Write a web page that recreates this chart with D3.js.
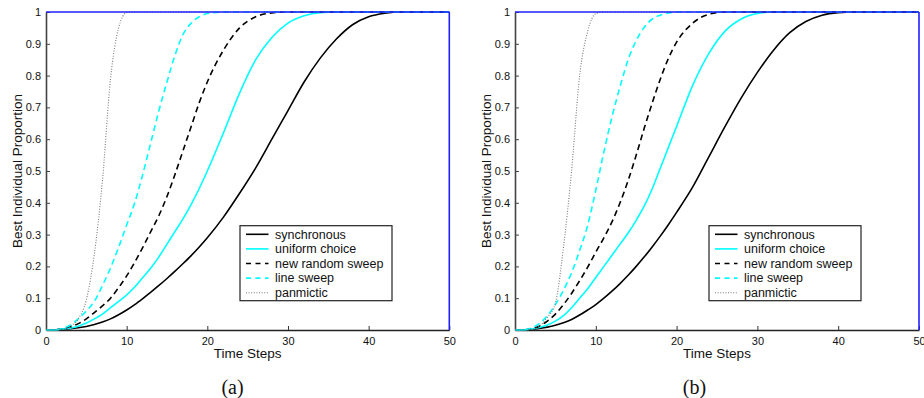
<!DOCTYPE html>
<html>
<head>
<meta charset="utf-8">
<script src="https://cdn.jsdelivr.net/npm/d3@7"></script>
<style>
  body { margin: 0; background: #fff; }
  text { font-family: "Liberation Sans", Arial, sans-serif; }
</style>
</head>
<body>
<div class="chart"></div>
<script>
	// Data
	var seriesNames = ["synchronous", "uniform choice", "new random sweep", "line sweep", "panmictic"];
	var timeSteps = [0,1,2,3,4,5,6,7,8,9,10,11,12,13,14,15,16,17,18,19,20,22,24,26,28,30,32,34,36,38,40,42,44,50];
	var xTicks = [0, 10, 20, 30, 40, 50];
	var yTicks = [0, 0.1, 0.2, 0.3, 0.4, 0.5, 0.6, 0.7, 0.8, 0.9, 1];

	// panel (a)
	var syncA    = [0,0,0.002,0.004,0.007,0.011,0.017,0.025,0.035,0.048,0.063,0.08,0.099,0.119,0.14,0.162,0.185,0.209,0.234,0.261,0.29, 0.355,0.43,0.51,0.60,0.69,0.78,0.855,0.915,0.96,0.985,0.996,1, 1];
	var uniformA = [0,0,0.003,0.006,0.012,0.022,0.035,0.05,0.07,0.09,0.11,0.135,0.165,0.195,0.23,0.27,0.31,0.35,0.395,0.445,0.50, 0.62,0.745,0.85,0.92,0.965,0.988,0.998,1,1,1,1,1, 1];
	var randomA  = [0,0,0.004,0.01,0.02,0.035,0.055,0.076,0.10,0.133,0.17,0.213,0.26,0.31,0.36,0.42,0.49,0.565,0.64,0.715,0.78, 0.88,0.95,0.985,0.997,1,1,1,1,1,1,1,1, 1];
	var lineA    = [0,0,0.005,0.015,0.035,0.06,0.09,0.14,0.195,0.26,0.33,0.40,0.49,0.59,0.69,0.78,0.865,0.93,0.965,0.985,0.995, 1,1,1,1,1,1,1,1,1,1,1,1, 1];
	var panA     = [0,0,0.002,0.01,0.035,0.095,0.24,0.47,0.79,0.95,0.998,1,1,1,1,1,1,1,1,1,1, 1,1,1,1,1,1,1,1,1,1,1,1, 1];

	// panel (b)
	var syncB    = [0,0,0.002,0.005,0.009,0.015,0.023,0.033,0.047,0.063,0.08,0.10,0.122,0.146,0.172,0.20,0.23,0.262,0.296,0.332,0.37, 0.45,0.545,0.64,0.73,0.81,0.88,0.935,0.97,0.99,0.998,1,1, 1];
	var uniformB = [0,0,0.003,0.008,0.016,0.028,0.045,0.07,0.10,0.13,0.165,0.20,0.235,0.27,0.305,0.345,0.39,0.445,0.51,0.575,0.64, 0.77,0.87,0.94,0.978,0.995,1,1,1,1,1,1,1, 1];
	var randomB  = [0,0,0.004,0.012,0.028,0.05,0.08,0.115,0.155,0.198,0.245,0.29,0.34,0.40,0.47,0.55,0.635,0.715,0.79,0.855,0.905, 0.965,0.993,1,1,1,1,1,1,1,1,1,1, 1];
	var lineB    = [0,0,0.006,0.02,0.045,0.08,0.125,0.18,0.25,0.33,0.44,0.56,0.67,0.765,0.85,0.91,0.952,0.978,0.99,0.997,1, 1,1,1,1,1,1,1,1,1,1,1,1, 1];
	var panB     = [0,0,0.002,0.012,0.04,0.085,0.26,0.50,0.80,0.94,0.995,1,1,1,1,1,1,1,1,1,1, 1,1,1,1,1,1,1,1,1,1,1,1, 1];

	// line styles, same order as seriesNames
	var lineStyles = [
		{ color: "#000000", dash: null,  width: 1.6 },
		{ color: "#00ffff", dash: null,  width: 1.6 },
		{ color: "#000000", dash: "6,4", width: 1.6 },
		{ color: "#00ffff", dash: "6,4", width: 1.6 },
		{ color: "#7a7a7a", dash: "1,1.6", width: 1.1 }
	];

	var svgWidth = 924, svgHeight = 398;
	var plotTop = 12, plotBottom = 330;

	var svg = d3.select(".chart")
		.append("svg")
			.attr("width", svgWidth)
			.attr("height", svgHeight)
			.style("display", "block");

	svg.append("rect")
		.attr("width", svgWidth)
		.attr("height", svgHeight)
		.attr("fill", "#ffffff");

	function drawPanel(left, right, values, yLabelX, caption, captionX) {
		var g = svg.append("g");

		// X Scale
		var x = d3.scaleLinear()
			.domain([0, 50])
			.range([left, right]);

		// Y Scale
		var y = d3.scaleLinear()
			.domain([0, 1])
			.range([plotBottom, plotTop]);

		// X Axis (ticks pointing in)
		var xAxis = d3.axisBottom(x)
			.tickValues(xTicks)
			.tickSizeInner(-4)
			.tickSizeOuter(0)
			.tickPadding(7)
			.tickFormat(function(d){ return d; });
		var xAxisGroup = g.append("g")
			.attr("transform", "translate(0," + plotBottom + ")")
			.call(xAxis);
		xAxisGroup.select(".domain").attr("stroke", "#222222").attr("stroke-width", 1.6);
		xAxisGroup.selectAll(".tick line").attr("stroke", "#333333");
		xAxisGroup.selectAll("text")
			.style("font-size", "11px")
			.style("font-family", "'Liberation Sans', Arial, sans-serif")
			.attr("fill", "#111111");

		// Y Axis
		var yAxis = d3.axisLeft(y)
			.tickValues(yTicks)
			.tickSizeInner(-4)
			.tickSizeOuter(0)
			.tickPadding(5)
			.tickFormat(function(d){ return d; });
		var yAxisGroup = g.append("g")
			.attr("transform", "translate(" + left + ",0)")
			.call(yAxis);
		yAxisGroup.select(".domain").attr("stroke", "#444444").attr("stroke-width", 1.6);
		yAxisGroup.selectAll(".tick line").attr("stroke", "#444444");
		yAxisGroup.selectAll("text")
			.style("font-size", "11px")
			.style("font-family", "'Liberation Sans', Arial, sans-serif")
			.attr("fill", "#111111");

		// curves
		var line = d3.line()
			.x(function(d) { return x(d[0]); })
			.y(function(d) { return y(d[1]); })
			.curve(d3.curveMonotoneX);

		values.forEach(function(vals, i) {
			var pts = timeSteps.map(function(t, j) { return [t, vals[j]]; });
			g.append("path")
				.datum(pts)
				.attr("fill", "none")
				.attr("stroke", lineStyles[i].color)
				.attr("stroke-width", lineStyles[i].width)
				.attr("stroke-dasharray", lineStyles[i].dash)
				.attr("d", line);
		});

		// top and right box edges are blue
		g.append("line")
			.attr("x1", left).attr("x2", right)
			.attr("y1", y(1)).attr("y2", y(1))
			.attr("stroke", "#2020ff")
			.attr("stroke-width", 1.4);
		g.append("line")
			.attr("x1", right).attr("x2", right)
			.attr("y1", y(1)).attr("y2", y(0))
			.attr("stroke", "#2020ff")
			.attr("stroke-width", 1.6);

		// X Label
		g.append("text")
			.attr("x", (left + right) / 2)
			.attr("y", 358.3)
			.style("font-size", "13.5px")
			.attr("text-anchor", "middle")
			.attr("fill", "#111111")
			.text("Time Steps");

		// Y Label
		g.append("text")
			.attr("transform", "translate(" + yLabelX + "," + ((plotTop + plotBottom) / 2) + ") rotate(-90)")
			.style("font-size", "13.5px")
			.attr("text-anchor", "middle")
			.attr("fill", "#111111")
			.text("Best Individual Proportion");

		// Legend
		var legX = left + 194, legY = 225.7, legW = 152, legH = 75;
		var legend = g.append("g");
		legend.append("rect")
			.attr("x", legX)
			.attr("y", legY)
			.attr("width", legW)
			.attr("height", legH)
			.attr("fill", "#ffffff")
			.attr("stroke", "#222222")
			.attr("stroke-width", 1.2);

		seriesNames.forEach(function(name, i) {
			var rowY = legY + 8.6 + i * 14.6;
			legend.append("line")
				.attr("x1", legX + 6).attr("x2", legX + 28.5)
				.attr("y1", rowY).attr("y2", rowY)
				.attr("stroke", lineStyles[i].color)
				.attr("stroke-width", lineStyles[i].width)
				.attr("stroke-dasharray", i == 2 || i == 3 ? "5,4.5" : lineStyles[i].dash);
			legend.append("text")
				.attr("x", legX + 35)
				.attr("y", rowY + 4.3)
				.style("font-size", "12.5px")
				.attr("fill", "#111111")
				.text(name);
		});

		// caption
		svg.append("text")
			.attr("x", captionX)
			.attr("y", 394)
			.style("font-size", "20px")
			.style("font-family", "'Liberation Serif', 'DejaVu Serif', serif")
			.attr("text-anchor", "middle")
			.attr("fill", "#111111")
			.text(caption);
	}

	drawPanel(46, 449.3, [syncA, uniformA, randomA, lineA, panA], 21.5, "(a)", 232.5);
	drawPanel(515, 919, [syncB, uniformB, randomB, lineB, panB], 491, "(b)", 694.5);
</script>
</body>
</html>
